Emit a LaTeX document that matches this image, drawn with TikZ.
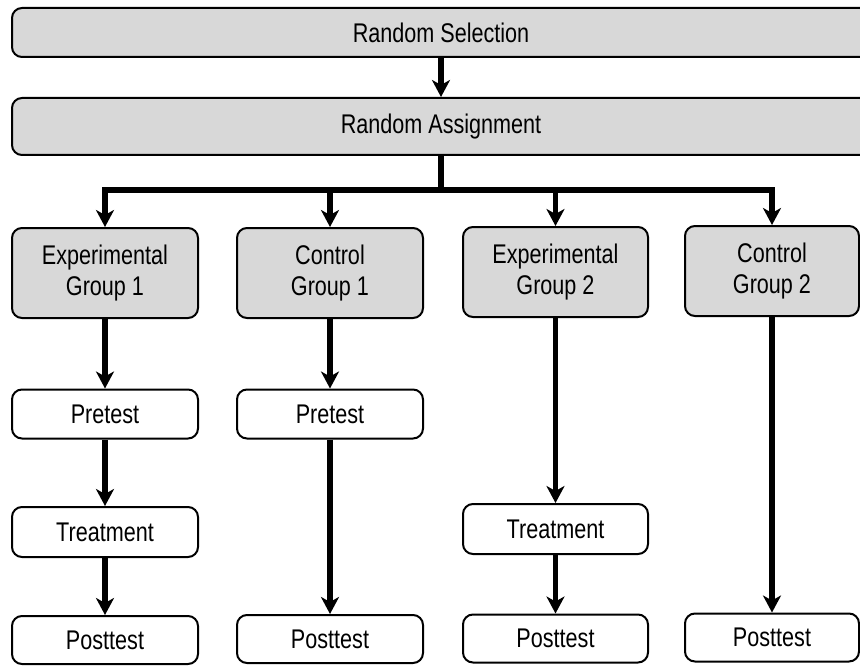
\documentclass[tikz,border=0pt]{standalone}
\usepackage{fontspec}
\setmainfont{Liberation Sans}[FakeStretch=0.80]
\usetikzlibrary{arrows.meta}
\definecolor{boxgray}{RGB}{216,216,216}
\tikzset{
  basebox/.style={draw=black, line width=2pt, rounded corners=10pt, inner sep=0pt,
    font=\fontsize{27}{31}\selectfont, align=center},
  graybox/.style={basebox, fill=boxgray},
  whitebox/.style={basebox, fill=white},
  conn/.style={line width=5.5pt, line join=miter, draw=black},
  arr/.style={conn, -{Stealth[length=17pt,width=18pt,inset=5pt]}},
}
\begin{document}
\begin{tikzpicture}[x=1pt,y=-1pt]
\useasboundingbox (0,0) rectangle (860,666);
\clip (0,0) rectangle (860,666);
\fill[white] (0,0) rectangle (860,666);
% top boxes
\node[graybox, minimum width=858pt, minimum height=49pt] (rs) at (441,32.5) {Random Selection};
\node[graybox, minimum width=858pt, minimum height=57pt] (ra) at (441,126.5) {Random Assignment};
% group boxes
\node[graybox, minimum width=186pt, minimum height=90pt] (eg1) at (105,273) {Experimental\\Group 1};
\node[graybox, minimum width=186pt, minimum height=90pt] (cg1) at (330,273) {Control\\Group 1};
\node[graybox, minimum width=185pt, minimum height=90pt] (eg2) at (555.5,272) {Experimental\\Group 2};
\node[graybox, minimum width=174pt, minimum height=90pt] (cg2) at (772,271) {Control\\Group 2};
% pretest
\node[whitebox, minimum width=186pt, minimum height=49pt] (pre1) at (105,414) {Pretest};
\node[whitebox, minimum width=186pt, minimum height=49pt] (pre2) at (330,414) {Pretest};
% treatment
\node[whitebox, minimum width=186pt, minimum height=50pt] (tr1) at (105,532) {Treatment};
\node[whitebox, minimum width=185pt, minimum height=50pt] (tr2) at (555.5,529) {Treatment};
% posttest
\node[whitebox, minimum width=186pt, minimum height=48pt] (po1) at (105,640) {Posttest};
\node[whitebox, minimum width=186pt, minimum height=48pt] (po2) at (330,639) {Posttest};
\node[whitebox, minimum width=185pt, minimum height=48pt] (po3) at (555.5,638.5) {Posttest};
\node[whitebox, minimum width=174pt, minimum height=48pt] (po4) at (772,637.5) {Posttest};
% connectors
\draw[arr] (rs.south) -- (ra.north);
\coordinate (j) at (441,190);
\draw[conn] (ra.south) -- (j);
\draw[arr] (j) -| (eg1.north);
\draw[arr] (j) -| (cg1.north);
\draw[arr] (j) -| (eg2.north);
\draw[arr] (j) -| (cg2.north);
\draw[arr] (eg1.south) -- (pre1.north);
\draw[arr] (pre1.south) -- (tr1.north);
\draw[arr] (tr1.south) -- (po1.north);
\draw[arr] (cg1.south) -- (pre2.north);
\draw[arr] (pre2.south) -- (po2.north);
\draw[arr] (eg2.south) -- (tr2.north);
\draw[arr] (tr2.south) -- (po3.north);
\draw[arr] (cg2.south) -- (po4.north);
\end{tikzpicture}
\end{document}
